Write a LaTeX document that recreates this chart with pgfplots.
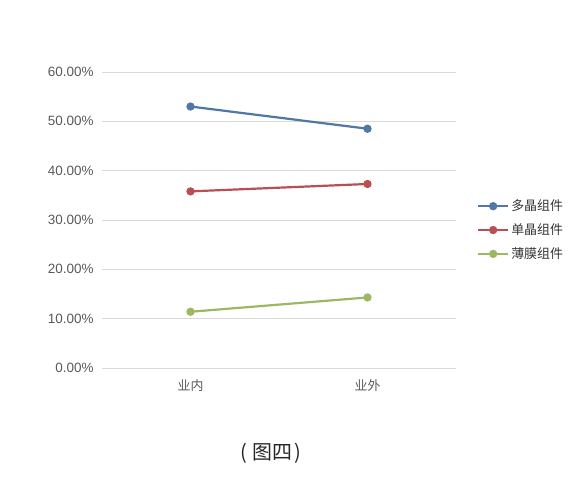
\documentclass[border=0pt]{standalone}
\usepackage{pgfplots}
\pgfplotsset{compat=1.18}
\usepackage{fontspec}
\setmainfont{Liberation Sans}
\newfontfamily\cjk{Noto Sans CJK SC}
\definecolor{cblue}{HTML}{4F78A8}
\definecolor{cred}{HTML}{BA4F52}
\definecolor{cgreen}{HTML}{9DB862}
\definecolor{gridc}{HTML}{D9D9D9}
\definecolor{txt}{HTML}{595959}
\begin{document}
\begin{tikzpicture}
\useasboundingbox (0,0) rectangle (588bp,487bp);
\begin{axis}[
  at={(102bp,119bp)}, anchor=south west,
  scale only axis, width=354bp, height=296bp,
  xmin=-0.5, xmax=1.5, ymin=0, ymax=60,
  xtick={0,1}, xticklabels={{\cjk 业内},{\cjk 业外}},
  ytick={0,10,20,30,40,50,60},
  yticklabel={\pgfmathprintnumber[fixed,fixed zerofill,precision=2]{\tick}\%},
  /pgf/number format/assume math mode=true,
  ymajorgrids, grid style={gridc, line width=0.8bp},
  axis line style={draw=none},
  major tick length=0pt,
  tick label style={font=\fontsize{13.5}{15}\selectfont, text=txt},
  yticklabel style={xshift=-5bp},
  xticklabel style={yshift=-8bp, font=\fontsize{13}{15}\selectfont\cjk},
  legend style={at={(1.059,0.466)}, anchor=west, draw=none, fill=none,
    font=\fontsize{13}{15}\selectfont\cjk, text=black!80, row sep=7.5bp, inner sep=0pt},
  legend cell align=left,
  legend image code/.code={\draw[mark repeat=2,mark phase=2] plot coordinates {(0bp,0bp) (15bp,0bp) (30bp,0bp)};},
  every axis plot/.append style={line width=2.2bp, mark=*, mark size=3bp, mark options={solid}},
  clip=false,
]
\addplot[color=cblue] coordinates {(0,53.0) (1,48.5)};
\addlegendentry{多晶组件}
\addplot[color=cred] coordinates {(0,35.8) (1,37.3)};
\addlegendentry{单晶组件}
\addplot[color=cgreen] coordinates {(0,11.4) (1,14.3)};
\addlegendentry{薄膜组件}
\end{axis}
\node[font=\fontsize{20}{22}\selectfont\cjk, text=black!85] at (271bp,34bp) {(\hspace{5bp}图四\hspace{2bp})};
\end{tikzpicture}
\end{document}
